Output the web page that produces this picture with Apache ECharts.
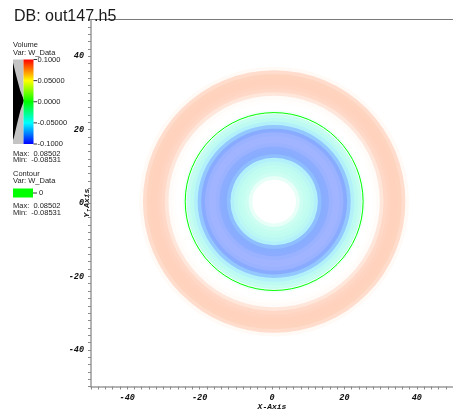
<!DOCTYPE html>
<html>
<head>
<meta charset="utf-8">
<script src="https://cdn.jsdelivr.net/npm/echarts@6/dist/echarts.min.js"></script>
<style>
  html, body { margin: 0; padding: 0; background: #ffffff; }
  #chart { width: 453px; height: 411px; }
</style>
</head>
<body>
<div id="chart"></div>
<script>
// ---- data -------------------------------------------------------------
const plotTitle = 'DB: out147.h5';
const variableName = 'W_Data';

// centre of the rings, in axis units
const ringCenter = [0.6, 0.4];

// radial profile of W_Data: outer radius of each shell and its value
const shellRadius = [1, 2, 3, 4, 5, 6, 7, 8, 9, 10,
                     11, 12, 13, 14, 15, 16, 17, 18, 19, 20,
                     21, 22, 23, 24, 25, 26, 27, 28, 29, 30,
                     31, 32, 33, 34, 35, 36, 37, 38, 39, 40];
const shellValue = [0.010, 0.010, 0.010, 0.010, 0.008, 0.002, -0.012, -0.022, -0.027, -0.030,
                    -0.033, -0.040, -0.058, -0.068, -0.072, -0.080, -0.085, -0.085, -0.080, -0.070,
                    -0.055, -0.040, -0.032, -0.026, -0.008, 0.004, 0.008, 0.012, 0.018, 0.042,
                    0.064, 0.075, 0.079, 0.080, 0.076, 0.056, 0.020, 0.004, 0.002, 0.000];

// zero-level contour of W_Data
const contourLevel = ['0'];
const contourRadius = [24.4];

// axis tick labels
const axisTickValues = [-40, -20, 0, 20, 40];

// colour bar
const colorbarTicks = [0.1, 0.05, 0, -0.05, -0.1];
const colorbarLabels = ['0.1000', '0.05000', '0.0000', '-0.05000', '-0.1000'];
const dataMax = '0.08502';
const dataMin = '-0.08531';

// ---- chart ------------------------------------------------------------
const chart = echarts.init(document.getElementById('chart'), null, { renderer: 'canvas' });

// shells are painted from the outside in so each disc covers the next one out
const shellData = shellRadius.map((r, i) => [r, shellValue[i]]).sort((a, b) => b[0] - a[0]);

const tickFont = {
  fontFamily: 'Liberation Mono', fontStyle: 'italic', fontWeight: 'bold',
  fontSize: 8.5, color: '#111'
};
const nameFont = {
  fontFamily: 'Liberation Mono', fontStyle: 'italic', fontWeight: 'bold',
  fontSize: 8, color: '#111'
};

function tickLabel(v) {
  return axisTickValues.indexOf(v) >= 0 ? String(v) : '';
}

function axisCommon(name) {
  return {
    type: 'value', min: -50, max: 50, interval: 10,
    name: name, nameLocation: 'middle', nameTextStyle: nameFont, nameMoveOverlap: false,
    axisLine: { show: true, onZero: false, lineStyle: { color: '#9a9a9a', width: 1.5 } },
    axisTick: { show: true, inside: false, length: 3, lineStyle: { color: '#8a8a8a' } },
    minorTick: { show: true, splitNumber: 5, length: 3, lineStyle: { color: '#8a8a8a' } },
    axisLabel: Object.assign({ formatter: tickLabel, margin: 7, showMinLabel: false, showMaxLabel: false }, tickFont),
    splitLine: { show: false },
    minorSplitLine: { show: false }
  };
}

// legend geometry
const lg = { x: 13, barX: 23.5, barW: 10, barTop: 59.5, barH: 84.5 };
const legendFont = '7.5px "Liberation Sans"';
function legendText(text, x, y) {
  return { type: 'text', x: x, y: y, silent: true, z: 10,
           style: { text: text, font: legendFont, fill: '#222', verticalAlign: 'middle' } };
}
function barY(v) { return lg.barTop + (0.1 - v) / 0.2 * lg.barH; }

const graphics = [
  legendText('Volume', lg.x, 45),
  legendText('Var: ' + variableName, lg.x, 52.5),
  { type: 'rect', silent: true,
    shape: { x: lg.x, y: lg.barTop, width: lg.barX - lg.x, height: lg.barH },
    style: { fill: '#c4c4c4' } },
  { type: 'polygon', silent: true,
    shape: { points: [[lg.x, 62.5], [lg.x + 3, 75], [lg.x + 7, 90], [lg.x + 11, 100.5],
                      [lg.x + 7.5, 110], [lg.x + 4, 124], [lg.x + 1, 137], [lg.x, 140]] },
    style: { fill: '#000' } },
  { type: 'rect', silent: true,
    shape: { x: lg.barX, y: lg.barTop, width: lg.barW, height: lg.barH },
    style: { fill: new echarts.graphic.LinearGradient(0, 0, 0, 1, [
      { offset: 0, color: '#ff0000' },
      { offset: 0.25, color: '#ffff00' },
      { offset: 0.5, color: '#00ff00' },
      { offset: 0.75, color: '#00ffff' },
      { offset: 1, color: '#0000ff' }
    ]) } },
  legendText('Max:  ' + dataMax, lg.x, 153.5),
  legendText('Min:  ' + dataMin, lg.x, 160),
  legendText('Contour', lg.x, 173.5),
  legendText('Var: ' + variableName, lg.x, 181),
  { type: 'rect', silent: true,
    shape: { x: lg.x, y: 188.5, width: 20, height: 9 },
    style: { fill: '#00ff00' } },
  { type: 'line', silent: true,
    shape: { x1: lg.x + 20, y1: 193, x2: lg.x + 24, y2: 193 },
    style: { stroke: '#333', lineWidth: 1 } },
  legendText(contourLevel[0], lg.x + 26, 193),
  legendText('Max:  ' + dataMax, lg.x, 206),
  legendText('Min:  ' + dataMin, lg.x, 213)
];
colorbarTicks.forEach((v, i) => {
  const y = barY(v);
  graphics.push({ type: 'line', silent: true,
    shape: { x1: lg.barX + lg.barW, y1: y, x2: lg.barX + lg.barW + 3.5, y2: y },
    style: { stroke: '#333', lineWidth: 1 } });
  graphics.push(legendText(colorbarLabels[i], lg.barX + lg.barW + 4, y));
});

function ringRadius(api, r) {
  const sx = api.size([r, 0])[0];
  const sy = api.size([0, r])[1];
  return (sx + sy) / 2;
}

const option = {
  animation: false,
  backgroundColor: '#ffffff',
  title: {
    text: plotTitle, left: 9, top: 4,
    textStyle: { fontFamily: 'Liberation Sans', fontSize: 16, fontWeight: 'normal', color: '#1a1a1a' }
  },
  grid: { left: 91, right: 0, top: 19.5, bottom: 24.5, containLabel: false, outerBoundsMode: 'none' },
  xAxis: [
    Object.assign(axisCommon('X-Axis'), { position: 'bottom', nameGap: 16 }),
    { type: 'value', min: -50, max: 50, position: 'top',
      axisLine: { show: true, onZero: false, lineStyle: { color: '#7a7a7a', width: 1 } },
      axisTick: { show: false }, axisLabel: { show: false }, splitLine: { show: false } }
  ],
  yAxis: [
    Object.assign(axisCommon('Y-Axis'), { position: 'left', nameRotate: 90, nameGap: 0 })
  ],
  visualMap: [{
    type: 'continuous', show: false, seriesIndex: 0, dimension: 1,
    min: -0.1, max: 0.1,
    inRange: {
      color: ['#a8b6ff', '#a6b6ff', '#9ab2ff', '#88aaff', '#8ab8ff', '#9cd6ff', '#b2f0fa',
              '#c0fcf0', '#d2fff2', '#eefff9', '#ffffff', '#ffffff', '#fffaf6', '#fff2ea',
              '#ffe8dc', '#ffe0d0', '#ffdaca', '#ffd6c2', '#ffd2bd', '#ffceb8', '#ffcab2']
    }
  }],
  series: [
    {
      name: 'Volume', type: 'custom', xAxisIndex: 0, yAxisIndex: 0,
      data: shellData, clip: true, silent: true,
      encode: { x: 0, y: 1 },
      renderItem: function (params, api) {
        const c = api.coord(ringCenter);
        return {
          type: 'circle',
          shape: { cx: c[0], cy: c[1], r: ringRadius(api, api.value(0)) },
          style: { fill: api.visual('color'), stroke: null }
        };
      }
    },
    {
      name: 'Contour', type: 'custom', xAxisIndex: 0, yAxisIndex: 0,
      data: contourRadius.map(r => [r]), clip: true, silent: true,
      encode: { x: 0 },
      renderItem: function (params, api) {
        const c = api.coord(ringCenter);
        return {
          type: 'circle',
          shape: { cx: c[0], cy: c[1], r: ringRadius(api, api.value(0)) },
          style: { fill: null, stroke: '#00ff00', lineWidth: 1 }
        };
      }
    }
  ],
  graphic: graphics
};

chart.setOption(option);
</script>
</body>
</html>
